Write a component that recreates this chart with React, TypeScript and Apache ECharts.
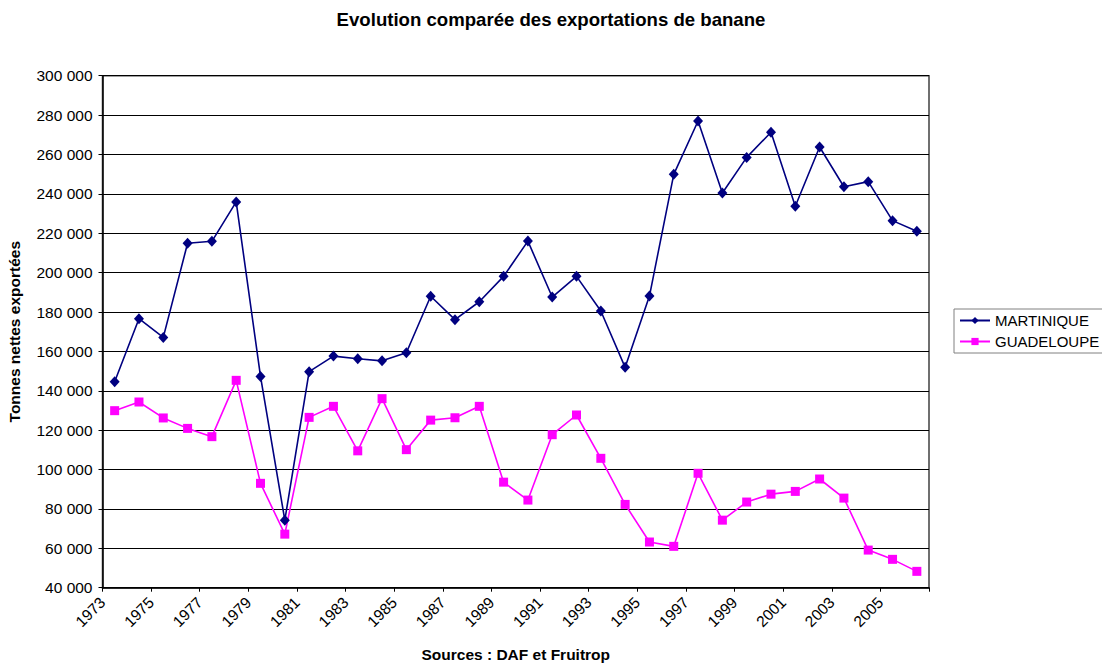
import React, { useEffect, useRef } from "react";
import * as echarts from "echarts";

const years = [
  "1973", "1974", "1975", "1976", "1977", "1978", "1979", "1980", "1981", "1982",
  "1983", "1984", "1985", "1986", "1987", "1988", "1989", "1990", "1991", "1992",
  "1993", "1994", "1995", "1996", "1997", "1998", "1999", "2000", "2001", "2002",
  "2003", "2004", "2005", "2006",
];

const martinique = [
  144600, 176600, 167100, 214900, 215900, 235900, 147300, 74300, 149700, 157600,
  156300, 155200, 159300, 188000, 176100, 185200, 198100, 216000, 187600, 198100,
  180500, 151900, 188100, 249900, 277000, 240400, 258500, 271300, 233700, 263800,
  243600, 246200, 226400, 221000,
];

const guadeloupe = [
  129900, 134300, 126200, 120900, 116700, 145300, 93000, 67200, 126500, 132100,
  109500, 136000, 110100, 125100, 126300, 132100, 93600, 84500, 117700, 127700,
  105700, 82300, 63200, 61000, 98100, 74300, 83500, 87500, 88900, 95200,
  85500, 59100, 54400, 48300,
];

const titleText = "Evolution comparée des exportations de banane";
const yName = "Tonnes nettes exportées";
const xName = "Sources : DAF et Fruitrop";

const FONT = "'Liberation Sans', Arial, sans-serif";
const FS = 15.5;

function fmt(v: number): string {
  return String(v).replace(/\B(?=(\d{3})+(?!\d))/g, " ");
}

export default function App() {
  const ref = useRef<HTMLDivElement>(null);
  useEffect(() => {
    document.body.style.margin = "0";
    document.body.style.overflow = "hidden";
    const chart = echarts.init(ref.current!, null, { renderer: "svg" });
    chart.setOption({
      animation: false,
      backgroundColor: "#ffffff",
      textStyle: { fontFamily: FONT },
      title: {
        text: titleText,
        left: "center",
        top: 10,
        padding: 0,
        textStyle: { fontFamily: FONT, fontSize: 18.6, fontWeight: "bold", color: "#000" },
      },
      legend: {
        orient: "vertical",
        left: 954,
        top: 309,
        padding: [4, 6, 4, 5],
        itemGap: 6,
        itemWidth: 30,
        itemHeight: 9,
        borderColor: "#808080",
        borderWidth: 1,
        textStyle: { fontFamily: FONT, fontSize: 15, color: "#000" },
        data: ["MARTINIQUE", "GUADELOUPE"],
      },
      grid: {
        left: 102.5,
        right: 173,
        top: 75.7,
        bottom: 75.3,
        containLabel: false,
        outerBoundsMode: "none",
        show: true,
        borderColor: "#404040",
        borderWidth: 1.5,
        backgroundColor: "transparent",
      },
      xAxis: [
        {
          type: "category",
          data: years,
          boundaryGap: true,
          position: "bottom",
          axisLine: { show: true, lineStyle: { color: "#000", width: 1.5 } },
          axisTick: { show: false },
          axisLabel: { show: false },
          splitLine: { show: false },
          name: xName,
          nameLocation: "middle",
          nameGap: 59,
          nameTextStyle: { fontFamily: FONT, fontSize: FS, fontWeight: "bold", color: "#000" },
        },
        {
          type: "value",
          position: "bottom",
          min: 0,
          max: years.length,
          interval: 2,
          axisLine: { show: false },
          axisTick: { show: true, length: 4, lineStyle: { color: "#000", width: 1 } },
          axisLabel: {
            show: true,
            rotate: 45,
            margin: 12,
            padding: [14, 0, 0, 0],
            fontFamily: FONT,
            fontSize: FS,
            color: "#000",
            showMaxLabel: true,
            formatter: (v: number) => years[v] ?? "",
          },
          splitLine: { show: false },
        },
      ],
      yAxis: {
        type: "value",
        min: 40000,
        max: 300000,
        interval: 20000,
        axisLine: { show: true, lineStyle: { color: "#000", width: 1.5 } },
        axisTick: { show: true, length: 4, lineStyle: { color: "#000", width: 1 } },
        axisLabel: {
          margin: 10,
          fontFamily: FONT,
          fontSize: FS,
          color: "#000",
          formatter: (v: number) => fmt(v),
        },
        splitLine: { show: true, lineStyle: { color: "#000", width: 1 } },
        name: yName,
        nameLocation: "middle",
        nameGap: 80,
        nameTextStyle: { fontFamily: FONT, fontSize: FS, fontWeight: "bold", color: "#000" },
      },
      series: [
        {
          name: "MARTINIQUE",
          type: "line",
          xAxisIndex: 0,
          data: martinique,
          symbol: "diamond",
          symbolSize: [10, 11],
          showAllSymbol: true,
          color: "#000080",
          lineStyle: { color: "#000080", width: 1.6 },
          itemStyle: { color: "#000080" },
        },
        {
          name: "GUADELOUPE",
          type: "line",
          xAxisIndex: 0,
          data: guadeloupe,
          symbol: "rect",
          symbolSize: 9,
          showAllSymbol: true,
          color: "#FF00FF",
          lineStyle: { color: "#FF00FF", width: 1.6 },
          itemStyle: { color: "#FF00FF" },
        },
      ],
    });
    return () => chart.dispose();
  }, []);
  return <div ref={ref} style={{ width: 1102, height: 663 }} />;
}
